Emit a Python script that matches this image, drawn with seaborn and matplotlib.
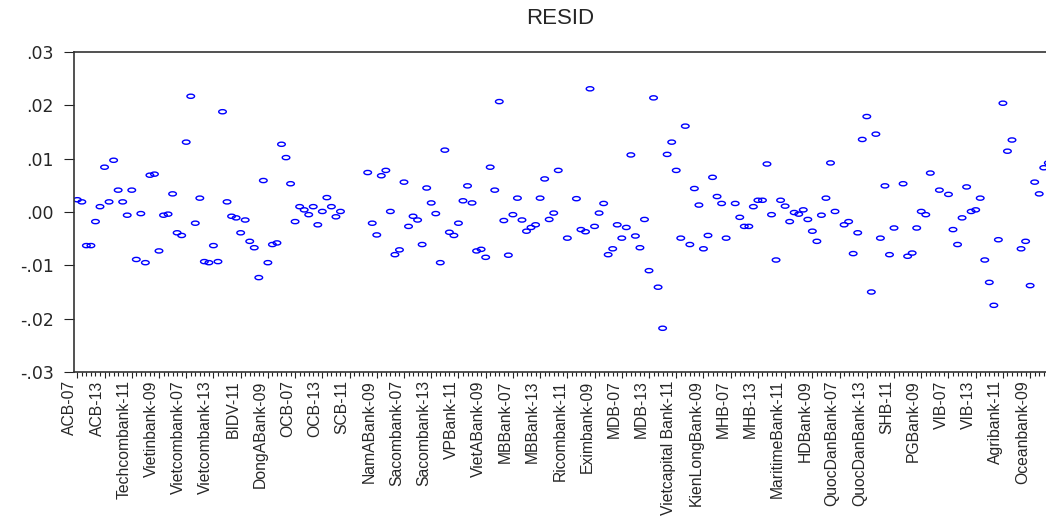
import numpy as np
import pandas as pd
import matplotlib

matplotlib.use("Agg")
import matplotlib.pyplot as plt
import matplotlib.ticker as mticker
from matplotlib.path import Path
import seaborn as sns

# panel: 27 banks x 8 years (2007-2014), stacked bank by bank
banks = [
    "ACB", "Techcombank", "Vietinbank", "Vietcombank", "BIDV", "DongABank",
    "OCB", "SCB", "NamABank", "Sacombank", "VPBank", "VietABank", "MBBank",
    "Ricombank", "Eximbank", "MDB", "Vietcapital Bank", "KienLongBank", "MHB",
    "MaritimeBank", "HDBank", "QuocDanBank", "SHB", "PGBank", "VIB",
    "Agribank", "Oceanbank",
]
years = ["07", "08", "09", "10", "11", "12", "13", "14"]

resid = [
    0.0023, 0.0019, -0.0063, -0.0063, -0.0018, 0.0010, 0.0084, 0.0019,
    0.0097, 0.0041, 0.0019, -0.0006, 0.0041, -0.0089, -0.0003, -0.0095,
    0.0069, 0.0071, -0.0073, -0.0006, -0.0004, 0.0034, -0.0039, -0.0044,
    0.0131, 0.0217, -0.0021, 0.0026, -0.0093, -0.0095, -0.0063, -0.0093,
    0.0188, 0.0019, -0.0008, -0.0011, -0.0039, -0.0015, -0.0055, -0.0067,
    -0.0123, 0.0059, -0.0095, -0.0061, -0.0058, 0.0127, 0.0102, 0.0053,
    -0.0018, 0.0010, 0.0004, -0.0005, 0.0010, -0.0024, 0.0001, 0.0027,
    0.0010, -0.0009, 0.0001, None, None, None, None, None,
    0.0074, -0.0021, -0.0043, 0.0068, 0.0078, 0.0001, -0.0080, -0.0071,
    0.0056, -0.0027, -0.0008, -0.0015, -0.0061, 0.0045, 0.0017, -0.0003,
    -0.0095, 0.0116, -0.0038, -0.0044, -0.0021, 0.0021, 0.0049, 0.0017,
    -0.0073, -0.0070, -0.0085, 0.0084, 0.0041, 0.0207, -0.0016, -0.0081,
    -0.0005, 0.0026, -0.0015, -0.0036, -0.0029, -0.0024, 0.0026, 0.0062,
    -0.0014, -0.0002, 0.0078, None, -0.0049, None, 0.0025, -0.0033,
    -0.0037, 0.0231, -0.0027, -0.0002, 0.0016, -0.0080, -0.0069, -0.0024,
    -0.0049, -0.0029, 0.0107, -0.0045, -0.0067, -0.0014, -0.0110, 0.0214,
    -0.0141, -0.0218, 0.0108, 0.0131, 0.0078, -0.0049, 0.0161, -0.0061,
    0.0044, 0.0013, -0.0069, -0.0044, 0.0065, 0.0029, 0.0016, -0.0049,
    None, 0.0016, -0.0010, -0.0027, -0.0027, 0.0010, 0.0022, 0.0022,
    0.0090, -0.0005, -0.0090, 0.0022, 0.0011, -0.0018, -0.0001, -0.0004,
    0.0004, -0.0014, -0.0036, -0.0055, -0.0006, 0.0026, 0.0092, 0.0001,
    None, -0.0024, -0.0018, -0.0078, -0.0039, 0.0136, 0.0179, -0.0150,
    0.0146, -0.0049, 0.0049, -0.0080, -0.0030, None, 0.0053, -0.0083,
    -0.0077, -0.0030, 0.0001, -0.0005, 0.0073, None, 0.0041, None,
    0.0033, -0.0033, -0.0061, -0.0011, 0.0047, 0.0001, 0.0004, 0.0026,
    -0.0090, -0.0132, -0.0175, -0.0052, 0.0204, 0.0114, 0.0135, None,
    -0.0069, -0.0055, -0.0138, 0.0056, 0.0034, 0.0083, 0.0092, None,
]

obs_labels = [f"{b}-{y}" for b in banks for y in years]
df = pd.DataFrame({
    "obs": np.arange(len(obs_labels)),
    "label": obs_labels,
    "resid": np.array(resid, dtype=float),
})

W, H = 1046, 516
fig = plt.figure(figsize=(W / 100, H / 100), dpi=100)
sns.set_style("ticks")
plt.rcParams["font.family"] = ["Liberation Sans", "DejaVu Sans"]

# plot box: left edge at x=74, runs past the right border of the picture
ax = fig.add_axes([74 / W, (H - 372) / H, (1056 - 74) / W, 320 / H])

# flat open ellipse, like the stretched EViews circles
circ = Path.unit_circle()
ellipse = Path(circ.vertices * [1.0, 0.55], circ.codes)

sns.scatterplot(
    data=df, x="obs", y="resid", ax=ax,
    marker=ellipse, s=30, color="#0000ff",
    facecolor="none", edgecolor="#0000ff", linewidth=1.0,
)

ax.set_xlim(-0.73, 215.7)
ax.set_ylim(-0.03, 0.03)
ax.set_xlabel("")
ax.set_ylabel("")

ax.set_yticks(np.arange(-0.03, 0.031, 0.01))
ax.yaxis.set_major_formatter(
    mticker.FuncFormatter(lambda v, _: f"{v:.2f}".replace("0.", "."))
)
ax.tick_params(axis="y", length=7.5, width=0.8, pad=7, labelsize=12.5,
               color="#222222")
for t in ax.get_yticklabels():
    t.set_family(["DejaVu Sans"])

major = df["obs"][::6]
ax.set_xticks(major)
ax.set_xticklabels(df["label"][::6], rotation=90, ha="right", va="top",
                   fontsize=11.3)
ax.xaxis.set_minor_locator(mticker.MultipleLocator(1))
ax.tick_params(axis="x", which="major", length=4.5, width=0.8, pad=1.5,
               color="#222222")
ax.tick_params(axis="x", which="minor", length=3, width=0.8, color="#222222")

for side in ("top", "left", "bottom", "right"):
    ax.spines[side].set_color("#333333")
    ax.spines[side].set_linewidth(1.2)
ax.grid(False)

fig.text(560 / W, (H - 18) / H, "RESID", ha="center", va="center",
         fontsize=16)

fig.savefig("out.png", dpi=100)
plt.close(fig)
